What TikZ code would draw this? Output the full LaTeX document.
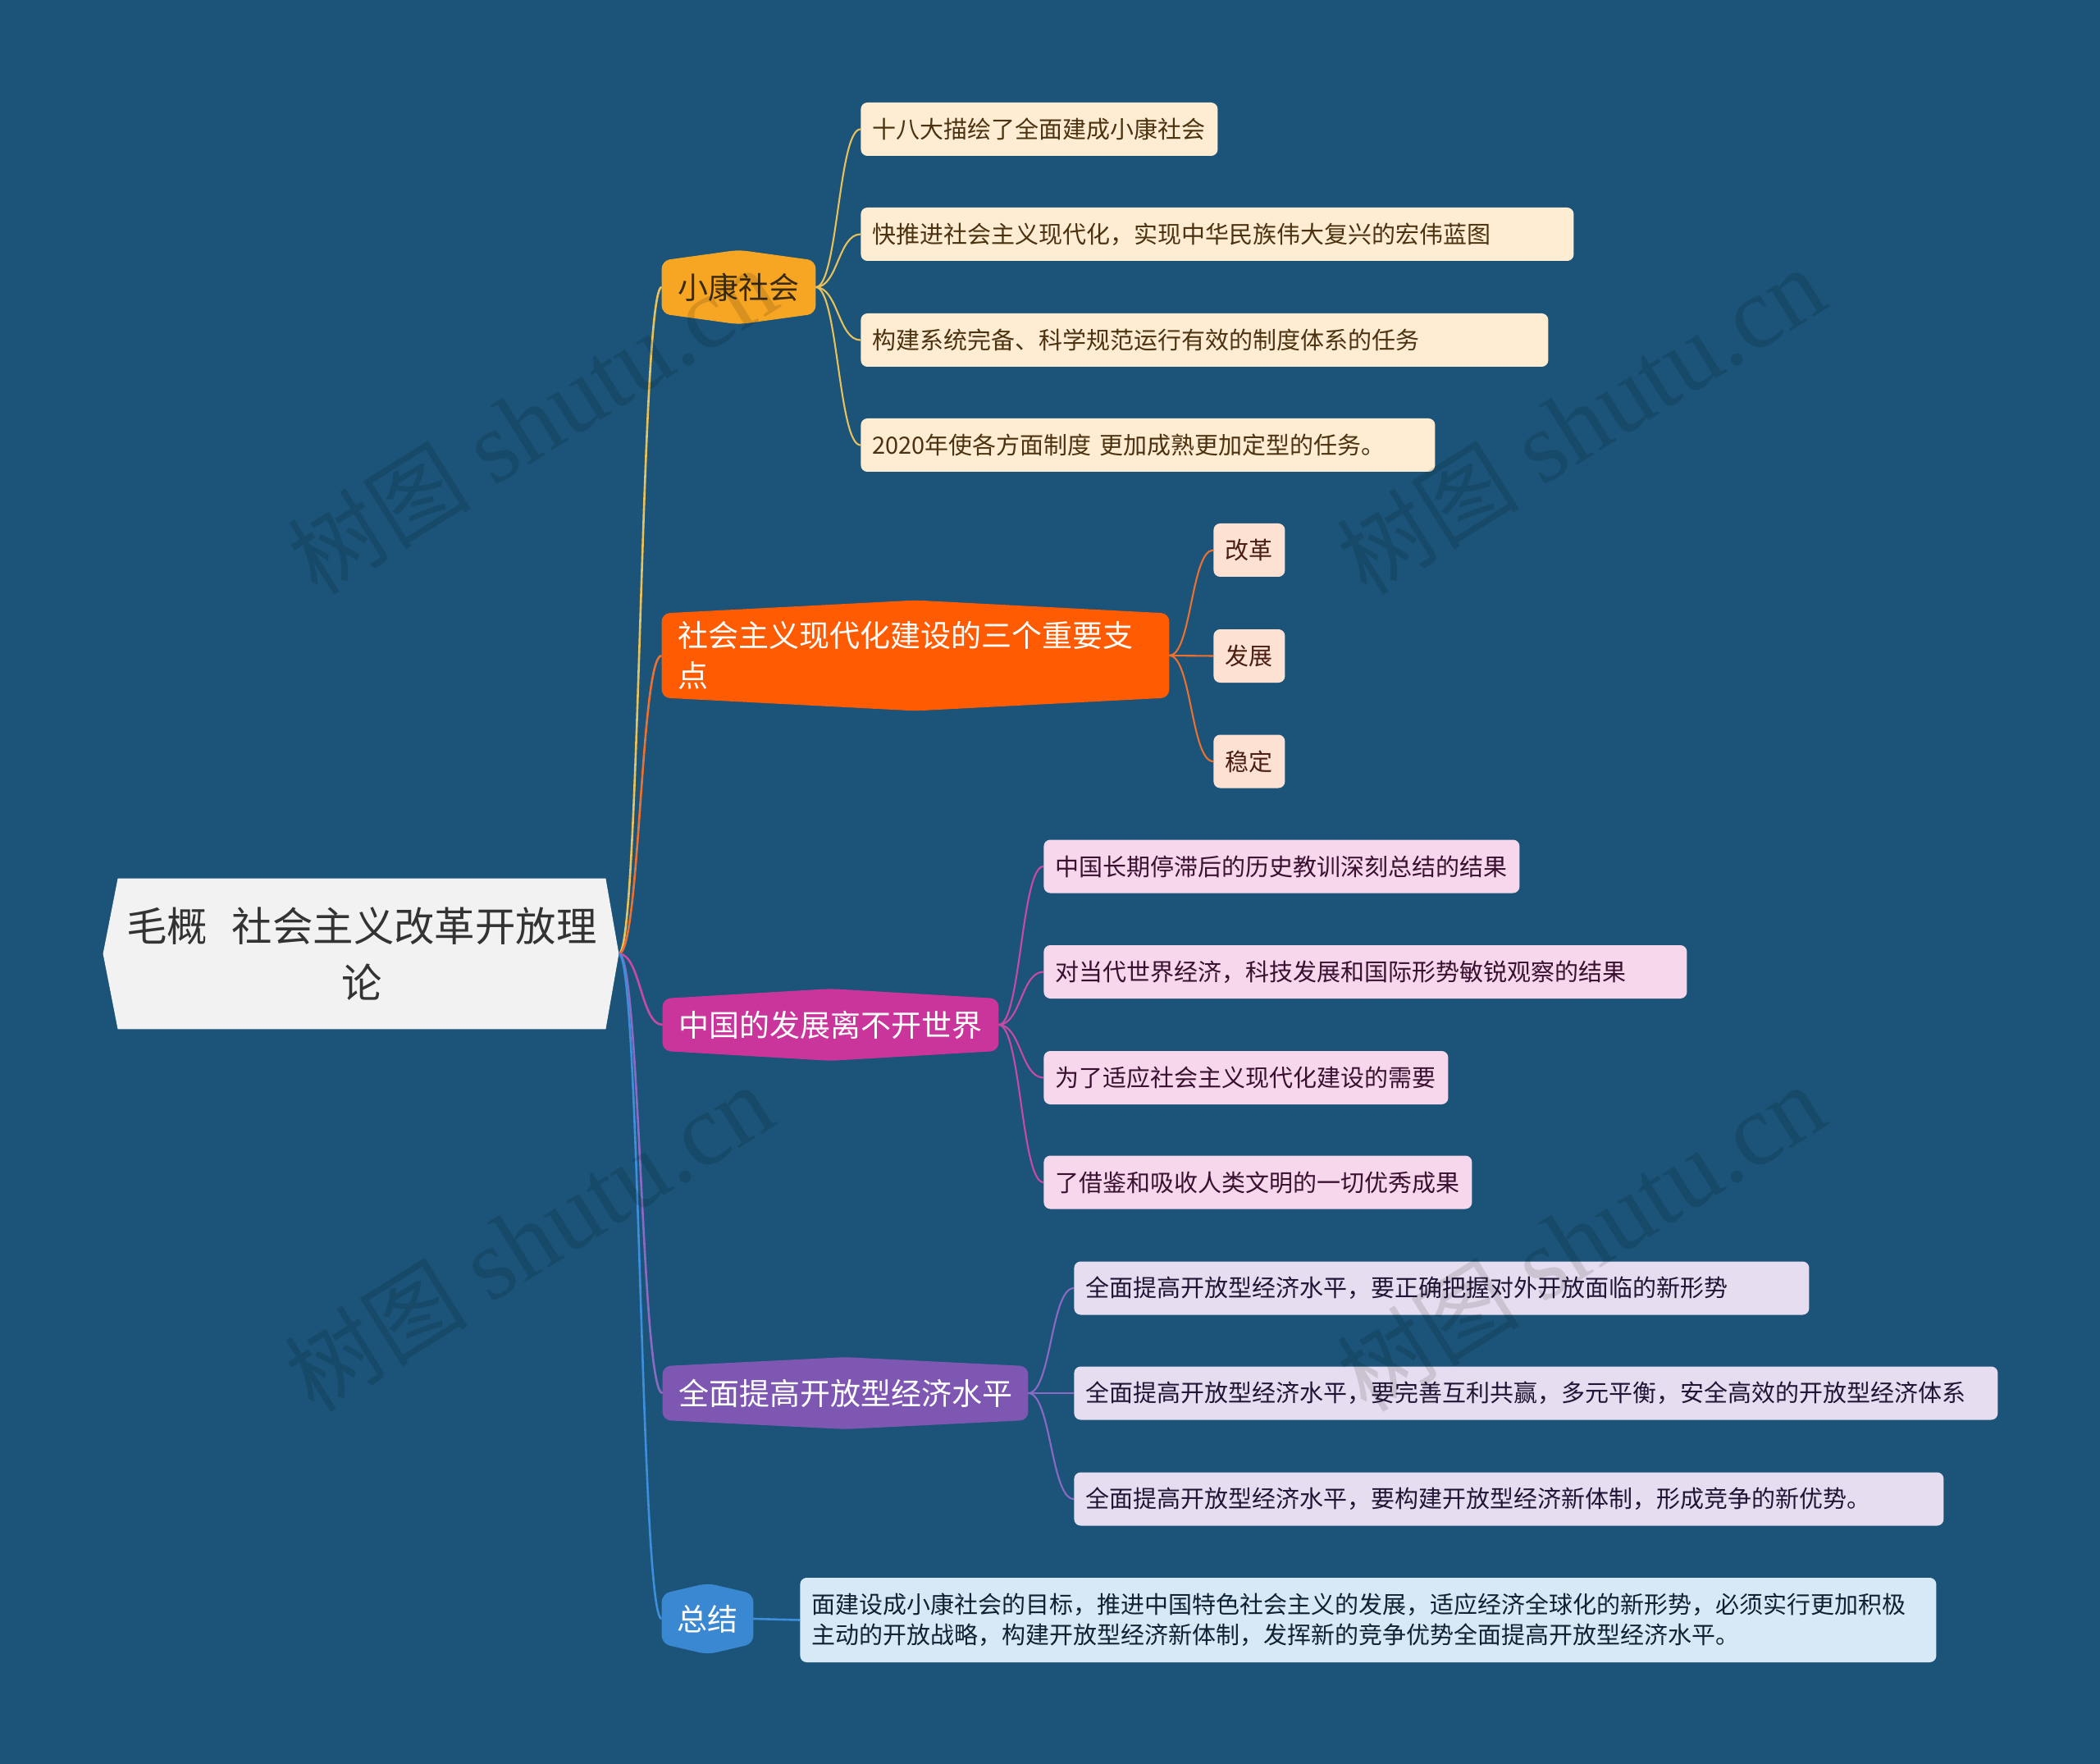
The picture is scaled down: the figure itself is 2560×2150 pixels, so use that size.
\documentclass[tikz,border=0pt]{standalone}
\usepackage{fontspec}
\setmainfont{Noto Sans CJK SC}
\newfontfamily\wmlatin{Liberation Serif}
\usetikzlibrary{calc}
\pgfdeclarelayer{bgl}
\pgfdeclarelayer{shp}
\pgfsetlayers{bgl,shp,main}
\definecolor{bgc}{RGB}{27,84,120}
\definecolor{rootfill}{RGB}{242,242,242}
\definecolor{roottext}{RGB}{51,51,51}
\definecolor{bAfill}{RGB}{247,166,35}
\definecolor{bAtext}{RGB}{58,42,16}
\definecolor{bBfill}{RGB}{255,91,2}
\definecolor{bCfill}{RGB}{201,53,155}
\definecolor{bDfill}{RGB}{126,87,178}
\definecolor{bEfill}{RGB}{58,135,210}
\definecolor{cAfill}{RGB}{254,237,210}
\definecolor{cAtext}{RGB}{75,50,16}
\definecolor{cBfill}{RGB}{253,226,212}
\definecolor{cBtext}{RGB}{74,30,16}
\definecolor{cCfill}{RGB}{246,215,236}
\definecolor{cCtext}{RGB}{58,16,48}
\definecolor{cDfill}{RGB}{230,222,240}
\definecolor{cDtext}{RGB}{32,21,53}
\definecolor{cEfill}{RGB}{215,233,247}
\definecolor{cEtext}{RGB}{15,34,51}
\definecolor{lA}{RGB}{233,193,90}
\definecolor{lB}{RGB}{236,112,48}
\definecolor{lC}{RGB}{201,74,165}
\definecolor{lD}{RGB}{138,106,194}
\definecolor{lE}{RGB}{61,142,219}
\newcommand{\hexbg}[3]{\begin{pgfonlayer}{shp}\fill[#2, rounded corners=5pt] (#1.west) -- (#1.north west) -- ($(#1.north)+(0,-#3)$) -- (#1.north east) -- (#1.south east) -- ($(#1.south)+(0,#3)$) -- (#1.south west) -- cycle;\end{pgfonlayer}}
\begin{document}
\begin{tikzpicture}[x=0.5pt,y=-0.5pt,
  leaf/.style={anchor=west, rounded corners=4pt, inner xsep=7pt, inner ysep=0pt, minimum height=32.5pt, align=left, font=\fontsize{14.5pt}{18.5pt}\selectfont},
  branch/.style={inner sep=0pt, align=center, font=\fontsize{18.5pt}{24.5pt}\selectfont, text=white},
  rl/.style={line width=1.3pt},
  cl/.style={line width=1.05pt},
  wm/.style={rotate=32, text=black, opacity=0.12, font=\fontsize{56pt}{60pt}\selectfont, inner sep=0pt}]
\begin{pgfonlayer}{bgl}
\fill[bgc] (0,0) rectangle (2560,2150);
\end{pgfonlayer}
\useasboundingbox (0,0) rectangle (2560,2150);

% root
\node[font=\fontsize{24.7pt}{34.5pt}\selectfont, text=roottext, align=center, minimum width=297pt, minimum height=91.5pt, inner sep=0pt] (root) at (441,1162.5) {毛概\hspace{0.6em}社会主义改革开放理\\论};
\coordinate (rootR) at ($(root.east)+(16,0)$);
\begin{pgfonlayer}{shp}
\fill[rootfill] (root.north west) -- (root.north east) -- (rootR) -- (root.south east) -- (root.south west) -- ($(root.west)+(-18,0)$) -- cycle;
\end{pgfonlayer}

% branches
\node[branch, text=bAtext, minimum width=93.5pt, minimum height=32pt] (b1) at (900.5,350) {小康社会};
\node[branch, minimum width=309pt, minimum height=51pt, text width=290pt, align=left, inner xsep=9.5pt] (b2) at (1116,799) {社会主义现代化建设的三个重要支\\点};
\node[branch, minimum width=204.5pt, minimum height=31.5pt] (b3) at (1012.5,1249) {中国的发展离不开世界};
\node[branch, minimum width=222.5pt, minimum height=32.5pt] (b4) at (1030.5,1698) {全面提高开放型经济水平};
\node[branch, minimum width=55.5pt, minimum height=30pt] (b5) at (862.5,1973) {总结};
\hexbg{b1}{bAfill}{13}
\hexbg{b2}{bBfill}{16}
\hexbg{b3}{bCfill}{12}
\hexbg{b4}{bDfill}{11}
\hexbg{b5}{bEfill}{13}

% leaves of b1
\node[leaf, fill=cAfill, text=cAtext, text width=203.5pt] (c1) at (1049,157.5) {十八大描绘了全面建成小康社会};
\node[leaf, fill=cAfill, text=cAtext, text width=420.5pt] (c2) at (1049,285.5) {快推进社会主义现代化，实现中华民族伟大复兴的宏伟蓝图};
\node[leaf, fill=cAfill, text=cAtext, text width=405pt] (c3) at (1049,414.5) {构建系统完备、科学规范运行有效的制度体系的任务};
\node[leaf, fill=cAfill, text=cAtext, text width=336pt] (c4) at (1049,542.5) {2020年使各方面制度 更加成熟更加定型的任务。};

% leaves of b2
\node[leaf, fill=cBfill, text=cBtext, text width=29.5pt, align=center] (g1) at (1479,670.5) {改革};
\node[leaf, fill=cBfill, text=cBtext, text width=29.5pt, align=center] (g2) at (1479,799.5) {发展};
\node[leaf, fill=cBfill, text=cBtext, text width=29.5pt, align=center] (g3) at (1479,928) {稳定};

% leaves of b3
\node[leaf, fill=cCfill, text=cCtext, text width=276pt] (d1) at (1272,1056) {中国长期停滞后的历史教训深刻总结的结果};
\node[leaf, fill=cCfill, text=cCtext, text width=378pt] (d2) at (1272,1184.5) {对当代世界经济，科技发展和国际形势敏锐观察的结果};
\node[leaf, fill=cCfill, text=cCtext, text width=232.5pt] (d3) at (1272,1313.5) {为了适应社会主义现代化建设的需要};
\node[leaf, fill=cCfill, text=cCtext, text width=247pt] (d4) at (1272,1441) {了借鉴和吸收人类文明的一切优秀成果};

% leaves of b4
\node[leaf, fill=cDfill, text=cDtext, text width=434pt] (e1) at (1309,1570) {全面提高开放型经济水平，要正确把握对外开放面临的新形势};
\node[leaf, fill=cDfill, text=cDtext, text width=549pt] (e2) at (1309,1698) {全面提高开放型经济水平，要完善互利共赢，多元平衡，安全高效的开放型经济体系};
\node[leaf, fill=cDfill, text=cDtext, text width=516pt] (e3) at (1309,1827) {全面提高开放型经济水平，要构建开放型经济新体制，形成竞争的新优势。};

% leaf of b5
\node[leaf, fill=cEfill, text=cEtext, text width=678.5pt, minimum height=51.5pt] (s1) at (975,1974.5) {面建设成小康社会的目标，推进中国特色社会主义的发展，适应经济全球化的新形势，必须实行更加积极\\主动的开放战略，构建开放型经济新体制，发挥新的竞争优势全面提高开放型经济水平。};

% connectors
\begin{pgfonlayer}{shp}
\draw[rl, lA] (rootR) .. controls +(26,0) and +(-26,0) .. (b1.west);
\draw[rl, lB] (rootR) .. controls +(26,0) and +(-26,0) .. (b2.west);
\draw[rl, lC] (rootR) .. controls +(26,0) and +(-26,0) .. (b3.west);
\draw[rl, lD] (rootR) .. controls +(26,0) and +(-26,0) .. (b4.west);
\draw[rl, lE] (rootR) .. controls +(26,0) and +(-26,0) .. (b5.west);
\foreach \n in {c1,c2,c3,c4}{\draw[cl, lA] (b1.east) .. controls +(27,0) and +(-27,0) .. (\n.west);}
\foreach \n in {g1,g2,g3}{\draw[cl, lB] (b2.east) .. controls +(27,0) and +(-27,0) .. (\n.west);}
\foreach \n in {d1,d2,d3,d4}{\draw[cl, lC] (b3.east) .. controls +(27,0) and +(-27,0) .. (\n.west);}
\foreach \n in {e1,e2,e3}{\draw[cl, lD] (b4.east) .. controls +(28,0) and +(-28,0) .. (\n.west);}
\draw[rl, lE] (b5.east) -- (s1.west);
\end{pgfonlayer}

% watermarks
\node[wm] (w1) at (649,514) {树图\hspace{0.25em}{\wmlatin\fontsize{62pt}{64pt}\selectfont shutu.cn}};
\node[wm] (w2) at (1927,514) {树图\hspace{0.25em}{\wmlatin\fontsize{62pt}{64pt}\selectfont shutu.cn}};
\node[wm] (w3) at (645,1510) {树图\hspace{0.25em}{\wmlatin\fontsize{62pt}{64pt}\selectfont shutu.cn}};
\node[wm] (w4) at (1927,1510) {树图\hspace{0.25em}{\wmlatin\fontsize{62pt}{64pt}\selectfont shutu.cn}};
\end{tikzpicture}
\end{document}
